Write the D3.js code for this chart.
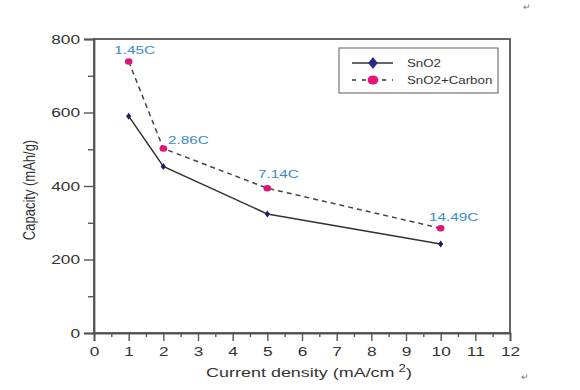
<!DOCTYPE html>
<html><head><meta charset="utf-8">
<script src="https://cdn.jsdelivr.net/npm/d3@7"></script>
<style>body{margin:0;background:#fff}svg{display:block}text{font-family:"Liberation Sans",Arial,sans-serif}</style>
</head><body>
<script>
const currentDensity = [1, 2, 5, 10];
const sno2 = [590, 453, 324, 242];
const sno2Carbon = [739, 502, 394, 285];
const rateLabels = ["1.45C", "2.86C", "7.14C", "14.49C"];
const xTicks = [0,1,2,3,4,5,6,7,8,9,10,11,12];
const yTicks = [0,200,400,600,800];
const seriesNames = ["SnO2", "SnO2+Carbon"];

const W = 580, H = 390, SX = 1.33;
const svg = d3.select("body").append("svg").attr("width", W).attr("height", H);
const x = d3.scaleLinear().domain([0, 12]).range([94, 510]);
const y = d3.scaleLinear().domain([0, 800]).range([333, 39]);
const axisCol = "#555";

function stretch(sel) {
  sel.each(function() {
    const t = d3.select(this);
    const tx = +(t.attr("x") || 0), ty = +(t.attr("y") || 0);
    const prev = t.attr("transform") || "";
    t.attr("x", 0).attr("y", 0).attr("transform", `${prev} translate(${tx},${ty}) scale(${SX},1)`);
  });
}

// frame
svg.append("rect").attr("x", 94).attr("y", 39).attr("width", 416).attr("height", 294)
  .attr("fill", "none").attr("stroke", axisCol).attr("stroke-width", 1.8);

// y axis
const ya = svg.append("g").attr("transform", "translate(94,0)")
  .call(d3.axisLeft(y).tickValues(yTicks).tickSize(10).tickPadding(4));
ya.select(".domain").attr("stroke", axisCol).attr("stroke-width", 1.8);
ya.selectAll(".tick line").attr("stroke", axisCol).attr("stroke-width", 1.4);
ya.selectAll("text").attr("font-size", 13).attr("fill", "#333");
stretch(ya.selectAll("text"));
const yMinor = svg.append("g").attr("transform", "translate(94,0)")
  .call(d3.axisLeft(y).tickValues([100,300,500,700]).tickSize(6).tickFormat(""));
yMinor.select(".domain").remove();
yMinor.selectAll(".tick line").attr("stroke", axisCol).attr("stroke-width", 1.4);

// x axis
const xa = svg.append("g").attr("transform", "translate(0,333)")
  .call(d3.axisBottom(x).tickValues(xTicks).tickSize(8).tickPadding(6));
xa.select(".domain").attr("stroke", axisCol).attr("stroke-width", 1.8);
xa.selectAll(".tick line").attr("stroke", axisCol).attr("stroke-width", 1.4);
xa.selectAll("text").attr("font-size", 13).attr("fill", "#333");
stretch(xa.selectAll("text"));
const xMinor = svg.append("g").attr("transform", "translate(0,333)")
  .call(d3.axisBottom(x).tickValues(d3.range(0.5, 12, 1)).tickSize(4).tickFormat(""));
xMinor.select(".domain").remove();
xMinor.selectAll(".tick line").attr("stroke", axisCol).attr("stroke-width", 1.4);

// axis titles
const xt = svg.append("text").attr("x", 309).attr("y", 377).attr("text-anchor", "middle")
  .attr("font-size", 13.5).attr("fill", "#333")
  .html('Current density (mA/cm<tspan dx="3" dy="-5" font-size="10">2</tspan><tspan dy="5">)</tspan>');
stretch(xt);
svg.append("text").attr("transform", "translate(35,190) rotate(-90) scale(1,1.25)").attr("text-anchor", "middle")
  .attr("font-size", 13).attr("fill", "#333").text("Capacity (mAh/g)");

const line = d3.line().x((d, i) => x(currentDensity[i])).y(d => y(d));
svg.append("path").datum(sno2).attr("d", line).attr("fill", "none")
  .attr("stroke", "#333").attr("stroke-width", 1.5);
svg.append("path").datum(sno2Carbon).attr("d", line).attr("fill", "none")
  .attr("stroke", "#444").attr("stroke-width", 1.5).attr("stroke-dasharray", "5,4");

const diamond = d3.symbol().type(d3.symbolDiamond).size(14);
svg.selectAll(".m1").data(sno2).enter().append("path")
  .attr("d", diamond).attr("transform", (d, i) => `translate(${x(currentDensity[i])},${y(d)}) scale(1.3,1)`)
  .attr("fill", "#1e1e6e");
svg.selectAll(".m2").data(sno2Carbon).enter().append("ellipse")
  .attr("cx", (d, i) => x(currentDensity[i])).attr("cy", d => y(d)).attr("rx", 3.8).attr("ry", 3.2)
  .attr("fill", "#e0127a");

// rate labels
const lblOff = [[6, -7], [25, -5], [11, -10], [13, -7]];
const rl = svg.selectAll(".rl").data(rateLabels).enter().append("text")
  .attr("x", (d, i) => x(currentDensity[i]) + lblOff[i][0])
  .attr("y", (d, i) => y(sno2Carbon[i]) + lblOff[i][1])
  .attr("text-anchor", "middle").attr("font-size", 11.5).attr("fill", "#3b8bc8").text(d => d);
stretch(rl);

// legend
const lg = svg.append("g");
lg.append("rect").attr("x", 339).attr("y", 48).attr("width", 159).attr("height", 45)
  .attr("fill", "#fff").attr("stroke", "#777").attr("stroke-width", 1.2);
lg.append("line").attr("x1", 352).attr("x2", 393).attr("y1", 63).attr("y2", 63)
  .attr("stroke", "#333").attr("stroke-width", 1.3);
lg.append("path").attr("d", d3.symbol().type(d3.symbolDiamond).size(40))
  .attr("transform", "translate(373,63) scale(1.4,1)").attr("fill", "#2a2a8a");
lg.append("line").attr("x1", 352).attr("x2", 393).attr("y1", 80).attr("y2", 80)
  .attr("stroke", "#333").attr("stroke-width", 1.3).attr("stroke-dasharray", "4,6");
lg.append("ellipse").attr("cx", 373).attr("cy", 80).attr("rx", 5.5).attr("ry", 4.6).attr("fill", "#e8157f");
const lt = lg.selectAll(".lt").data(seriesNames).enter().append("text")
  .attr("x", 407).attr("y", (d, i) => 67 + i * 17).attr("font-size", 10).attr("fill", "#333").text(d => d);
stretch(lt);

// return marks
svg.append("text").attr("x", 523).attr("y", 10).attr("font-size", 9).attr("fill", "#777").text("↵");
svg.append("text").attr("x", 521).attr("y", 380).attr("font-size", 9).attr("fill", "#777").text("↵");
</script>
</body></html>
